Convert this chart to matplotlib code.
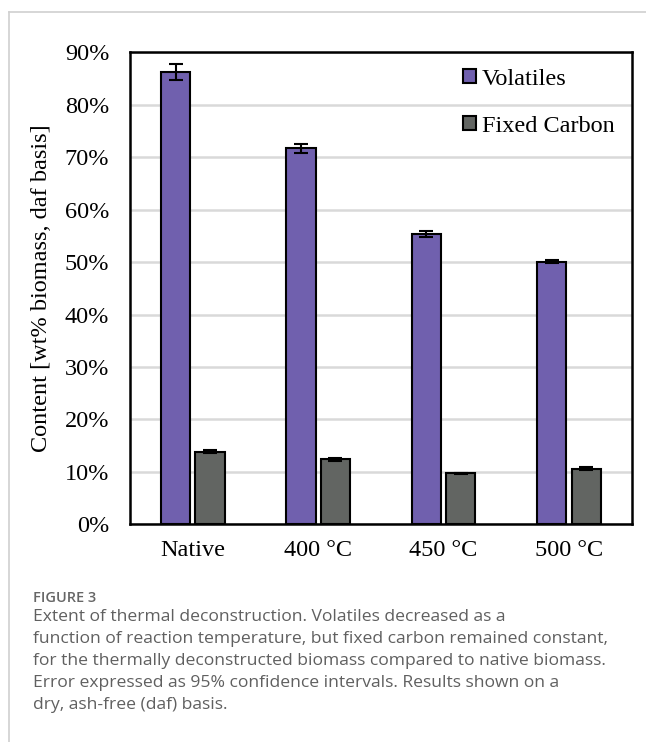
import numpy as np
import matplotlib.pyplot as plt
from matplotlib.lines import Line2D

categories = ["Native", "400 °C", "450 °C", "500 °C"]
volatiles = [86.3, 71.7, 55.4, 50.1]
volatiles_err = [1.5, 0.9, 0.6, 0.3]
fixed_carbon = [13.8, 12.4, 9.7, 10.6]
fixed_carbon_err = [0.3, 0.25, 0.15, 0.3]
yticks = [0, 10, 20, 30, 40, 50, 60, 70, 80, 90]

plt.rcParams["font.family"] = ["Liberation Serif", "DejaVu Serif"]
fs = 17.5

fig = plt.figure(figsize=(6.46, 7.42), dpi=100)
ax = fig.add_axes([0.2012, 0.2934, 0.7767, 0.6361])

x = np.arange(len(categories))
w = 0.234
err_kw = dict(ecolor="black", elinewidth=1.5, capsize=5, capthick=1.5)
ax.bar(x - 0.137, volatiles, w, yerr=volatiles_err, color="#7060ae",
       edgecolor="black", linewidth=1.5, label="Volatiles", error_kw=err_kw, zorder=3)
ax.bar(x + 0.137, fixed_carbon, w, yerr=fixed_carbon_err, color="#626562",
       edgecolor="black", linewidth=1.5, label="Fixed Carbon", error_kw=err_kw, zorder=3)

ax.set_xlim(-0.5, 3.5)
ax.set_ylim(0, 90)
ax.set_yticks(yticks)
ax.set_yticklabels([f"{t}%" for t in yticks], fontsize=fs)
ax.set_xticks(x)
ax.set_xticklabels(categories, fontsize=fs)
ax.tick_params(axis="y", length=0, pad=15)
ax.tick_params(axis="x", length=0, pad=11)
ax.grid(axis="y", color="#d9d9d9", linewidth=1.8, zorder=0)
for s in ax.spines.values():
    s.set_linewidth(1.8)
    s.set_color("black")

ax.set_ylabel("Content [wt% biomass, daf basis]", fontsize=fs, labelpad=9)

leg = ax.legend(loc="upper right", bbox_to_anchor=(1.01, 1.012), frameon=False,
                prop={"size": fs}, handlelength=0.55, handleheight=0.55,
                handletextpad=0.25, labelspacing=1.08, alignment="left")

# card border
fig.add_artist(Line2D([9 / 646, 9 / 646], [0, 1 - 12 / 742], color="#d0d0d0", lw=1.2))
fig.add_artist(Line2D([9 / 646, 1], [1 - 12 / 742, 1 - 12 / 742], color="#d0d0d0", lw=1.2))

fig.text(33 / 646, 1 - 598 / 742, "FIGURE 3", fontfamily="Open Sans", fontsize=10.5,
         fontweight="semibold", color="#666666", va="center")
caption = ("Extent of thermal deconstruction. Volatiles decreased as a\n"
           "function of reaction temperature, but fixed carbon remained constant,\n"
           "for the thermally deconstructed biomass compared to native biomass.\n"
           "Error expressed as 95% confidence intervals. Results shown on a\n"
           "dry, ash-free (daf) basis.")
fig.text(33 / 646, 1 - 609 / 742, caption, fontfamily="Open Sans", fontsize=12.6,
         color="#606060", va="top", linespacing=1.5)

fig.savefig("out.png", dpi=100)
